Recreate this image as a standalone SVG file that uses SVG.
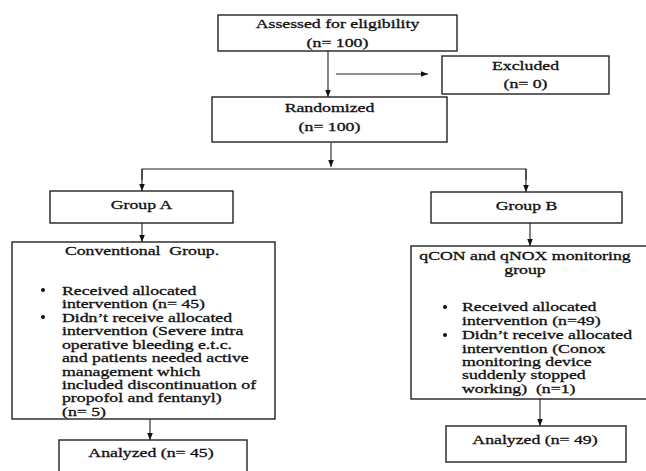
<svg xmlns="http://www.w3.org/2000/svg" width="646" height="471" viewBox="0 0 646 471">
<style>
.box{fill:#fff;stroke:#222;stroke-width:1.4}
.t{font-size:12.5px;fill:#111;stroke:#111;stroke-width:0.3;white-space:pre}
.c{text-anchor:middle}
.ln{fill:none;stroke:#222;stroke-width:1.1}
.dot{fill:#111}
</style>
<defs>
<marker id="ah" markerUnits="userSpaceOnUse" markerWidth="8" markerHeight="8" viewBox="0 0 8 8" refX="7" refY="4" orient="auto">
<path d="M0,1.2 L7,4 L0,6.8 Z" fill="#111"/>
</marker>
</defs>
<rect width="646" height="471" fill="#fff"/>

<g id="connectors">
<line class="ln" x1="328" y1="51" x2="328" y2="97" marker-end="url(#ah)"/>
<line class="ln" x1="336" y1="74" x2="428" y2="74" marker-end="url(#ah)"/>
<line class="ln" x1="331" y1="143" x2="331" y2="167" marker-end="url(#ah)"/>
<polyline class="ln" points="142,180 142,169 526,169 526,180"/>
<line class="ln" x1="142" y1="169" x2="142" y2="191" marker-end="url(#ah)"/>
<line class="ln" x1="526" y1="169" x2="526" y2="192" marker-end="url(#ah)"/>
<line class="ln" x1="142" y1="223" x2="142" y2="242" marker-end="url(#ah)"/>
<line class="ln" x1="530" y1="223" x2="530" y2="246" marker-end="url(#ah)"/>
<line class="ln" x1="150" y1="419" x2="150" y2="440" marker-end="url(#ah)"/>
<line class="ln" x1="540" y1="399" x2="540" y2="426" marker-end="url(#ah)"/>
</g>

<g font-family="'Liberation Serif', 'Times New Roman', 'DejaVu Serif', serif">
<g id="assessed">
<rect class="box" x="218" y="15" width="239" height="36"/>
<text class="t c" transform="translate(337.5,28) scale(1.42,1)">Assessed for eligibility</text>
<text class="t c" transform="translate(337.5,47) scale(1.42,1)">(n= 100)</text>
</g>

<g id="excluded">
<rect class="box" x="442" y="56" width="167" height="38"/>
<text class="t c" transform="translate(525.5,70) scale(1.42,1)">Excluded</text>
<text class="t c" transform="translate(525.5,88) scale(1.42,1)">(n= 0)</text>
</g>

<g id="randomized">
<rect class="box" x="212" y="97" width="235" height="45"/>
<text class="t c" transform="translate(329.5,112) scale(1.42,1)">Randomized</text>
<text class="t c" transform="translate(329.5,131) scale(1.42,1)">(n= 100)</text>
</g>

<g id="groupA">
<rect class="box" x="50" y="191" width="183" height="32"/>
<text class="t c" transform="translate(141.5,209) scale(1.42,1)">Group A</text>
</g>

<g id="groupB">
<rect class="box" x="431" y="192" width="191" height="31"/>
<text class="t c" transform="translate(526.5,210) scale(1.42,1)">Group B</text>
</g>

<g id="conventional">
<rect class="box" x="12" y="242" width="263" height="177"/>
<text class="t c" transform="translate(142,254.5) scale(1.42,1)">Conventional  Group.</text>
<circle class="dot" cx="43" cy="290" r="2"/>
<text class="t" transform="translate(62,294.5) scale(1.42,1)">Received allocated</text>
<text class="t" transform="translate(62,308) scale(1.42,1)">intervention (n= 45)</text>
<circle class="dot" cx="43" cy="317" r="2"/>
<text class="t" transform="translate(62,321.5) scale(1.42,1)">Didn’t receive allocated</text>
<text class="t" transform="translate(62,335) scale(1.42,1)">intervention (Severe intra</text>
<text class="t" transform="translate(62,348.5) scale(1.42,1)">operative bleeding e.t.c.</text>
<text class="t" transform="translate(62,362) scale(1.42,1)">and patients needed active</text>
<text class="t" transform="translate(62,375.5) scale(1.42,1)">management which</text>
<text class="t" transform="translate(62,388.5) scale(1.42,1)">included discontinuation of</text>
<text class="t" transform="translate(62,402) scale(1.42,1)">propofol and fentanyl)</text>
<text class="t" transform="translate(62,415.5) scale(1.42,1)">(n= 5)</text>
</g>

<g id="qcon">
<rect class="box" x="411" y="246" width="240" height="153"/>
<text class="t c" transform="translate(525,260) scale(1.42,1)">qCON and qNOX monitoring</text>
<text class="t c" transform="translate(525,274) scale(1.42,1)">group</text>
<circle class="dot" cx="445" cy="307" r="2"/>
<text class="t" transform="translate(462,311) scale(1.42,1)">Received allocated</text>
<text class="t" transform="translate(462,325) scale(1.42,1)">intervention (n=49)</text>
<circle class="dot" cx="445" cy="335" r="2"/>
<text class="t" transform="translate(462,339) scale(1.42,1)">Didn’t receive allocated</text>
<text class="t" transform="translate(462,352.5) scale(1.42,1)">intervention (Conox</text>
<text class="t" transform="translate(462,366) scale(1.42,1)">monitoring device</text>
<text class="t" transform="translate(462,379) scale(1.42,1)">suddenly stopped</text>
<text class="t" transform="translate(462,393) scale(1.42,1)">working)  (n=1)</text>
</g>

<g id="analyzedA">
<rect class="box" x="59" y="440" width="188" height="40"/>
<text class="t c" transform="translate(151,457) scale(1.42,1)">Analyzed (n= 45)</text>
</g>

<g id="analyzedB">
<rect class="box" x="446" y="426" width="180" height="36"/>
<text class="t c" transform="translate(535,444) scale(1.42,1)">Analyzed (n= 49)</text>
</g>
</g>
</svg>
